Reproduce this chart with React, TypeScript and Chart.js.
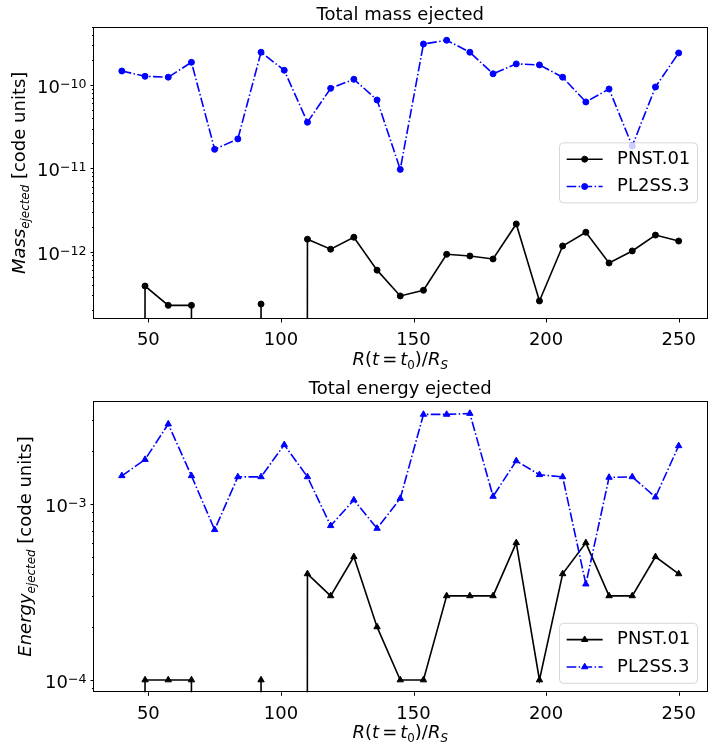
import React, { useEffect, useRef } from "react";
import { Chart, registerables } from "chart.js";

Chart.register(...registerables);

// ---------------- data ----------------
const radii = [40, 48.75, 57.5, 66.25, 75, 83.75, 92.5, 101.25, 110, 118.75, 127.5, 136.25, 145, 153.75, 162.5, 171.25, 180, 188.75, 197.5, 206.25, 215, 223.75, 232.5, 241.25, 250];

const massPNST = [0, 3.87e-13, 2.27e-13, 2.27e-13, 0, 0, 2.35e-13, 0, 1.41e-12, 1.07e-12, 1.49e-12, 6.0e-13, 2.94e-13, 3.44e-13, 9.3e-13, 8.87e-13, 8.17e-13, 2.15e-12, 2.56e-13, 1.17e-12, 1.71e-12, 7.31e-13, 1.02e-12, 1.58e-12, 1.34e-12];
const massPL2SS = [1.47e-10, 1.27e-10, 1.24e-10, 1.87e-10, 1.69e-11, 2.25e-11, 2.47e-10, 1.5e-10, 3.57e-11, 9.1e-11, 1.17e-10, 6.6e-11, 9.7e-12, 3.1e-10, 3.44e-10, 2.47e-10, 1.36e-10, 1.79e-10, 1.74e-10, 1.24e-10, 6.25e-11, 8.95e-11, 1.85e-11, 9.46e-11, 2.42e-10];

const energyPNST = [0, 1e-4, 1e-4, 1e-4, 0, 0, 1e-4, 0, 4e-4, 3e-4, 5e-4, 2e-4, 1e-4, 1e-4, 3e-4, 3e-4, 3e-4, 6e-4, 1e-4, 4e-4, 6e-4, 3e-4, 3e-4, 5e-4, 4e-4];
const energyPL2SS = [1.44e-3, 1.78e-3, 2.83e-3, 1.44e-3, 7.12e-4, 1.42e-3, 1.42e-3, 2.16e-3, 1.42e-3, 7.5e-4, 1.05e-3, 7.24e-4, 1.07e-3, 3.21e-3, 3.21e-3, 3.25e-3, 1.1e-3, 1.75e-3, 1.46e-3, 1.42e-3, 3.5e-4, 1.41e-3, 1.42e-3, 1.09e-3, 2.13e-3];

const seriesNames = ["PNST.01", "PL2SS.3"];
const xTicks = [50, 100, 150, 200, 250];
const xRange = [29.5, 260.5];
const massRange = [1.556e-13, 5.0e-10];
const energyRange = [8.515e-5, 3.84e-3];

// ---------------- helpers ----------------
const FONT = '"DejaVu Sans", sans-serif';
const FS = 18;
const SUB = 0.66;

type Piece = { t: string; it?: boolean; sub?: boolean; pad?: number };

const xLabelPieces: Piece[] = [
  { t: "R", it: true }, { t: "(" }, { t: "t", it: true }, { t: "=", pad: 3 }, { t: "t", it: true },
  { t: "0", sub: true }, { t: ")" }, { t: "/" }, { t: "R", it: true }, { t: "S", it: true, sub: true },
];

// matplotlib clips non-positive values on a log axis to a tiny number
const clipLog = (v: number) => (v > 0 ? v : 1e-300);

const isPow10 = (v: number) => {
  const l = Math.log10(v);
  return Math.abs(l - Math.round(l)) < 1e-6;
};

const logTicks = (min: number, max: number) => {
  const out: { value: number; major: boolean }[] = [];
  for (let e = Math.floor(Math.log10(min)); e <= Math.ceil(Math.log10(max)); e++) {
    for (let k = 1; k <= 9; k++) {
      const v = k * Math.pow(10, e);
      if (v >= min && v <= max) out.push({ value: v, major: k === 1 });
    }
  }
  return out;
};

function drawPieces(ctx: CanvasRenderingContext2D, pieces: Piece[], x: number, y: number) {
  const fontOf = (p: Piece) => `${p.it ? "italic " : ""}${p.sub ? FS * SUB : FS}px ${FONT}`;
  const widths = pieces.map((p) => {
    ctx.font = fontOf(p);
    return ctx.measureText(p.t).width + 2 * (p.pad || 0);
  });
  const total = widths.reduce((a, b) => a + b, 0);
  let cx = x - total / 2;
  ctx.textAlign = "left";
  ctx.textBaseline = "alphabetic";
  ctx.fillStyle = "#000";
  pieces.forEach((p, i) => {
    ctx.font = fontOf(p);
    ctx.fillText(p.t, cx + (p.pad || 0), y + (p.sub ? 4 : 0));
    cx += widths[i];
  });
}

function markerPath(ctx: CanvasRenderingContext2D, style: string, x: number, y: number, r: number) {
  ctx.beginPath();
  if (style === "triangle") {
    let rad = 0;
    ctx.moveTo(x + Math.sin(rad) * r, y - Math.cos(rad) * r);
    rad += (2 * Math.PI) / 3;
    ctx.lineTo(x + Math.sin(rad) * r, y - Math.cos(rad) * r);
    rad += (2 * Math.PI) / 3;
    ctx.lineTo(x + Math.sin(rad) * r, y - Math.cos(rad) * r);
    ctx.closePath();
  } else {
    ctx.arc(x, y, r, 0, Math.PI * 2);
  }
}

type PanelSpec = {
  title: string;
  yLabel: Piece[];
  yLabelX: number;
  pnst: number[];
  pl2ss: number[];
  marker: string;
  radius: number;
  yRange: number[];
  padTop: number;
  xAxisH: number;
  legendLoc: string;
};

function makePlugin(spec: PanelSpec) {
  return {
    id: "mpl",
    afterDatasetsDraw(chart: any) {
      const ctx: CanvasRenderingContext2D = chart.ctx;
      const a = chart.chartArea;
      const xs = chart.scales.x;
      const ys = chart.scales.y;
      ctx.save();
      ctx.strokeStyle = "#000";
      ctx.lineWidth = 1;
      ctx.setLineDash([]);
      // x ticks
      xs.ticks.forEach((t: any) => {
        const px = Math.round(xs.getPixelForValue(t.value)) + 0.5;
        ctx.beginPath();
        ctx.moveTo(px, a.bottom);
        ctx.lineTo(px, a.bottom + 3.5);
        ctx.stroke();
      });
      // y ticks (major + minor) and log labels
      ys.ticks.forEach((t: any) => {
        const py = Math.round(ys.getPixelForValue(t.value)) + 0.5;
        const major = isPow10(t.value);
        ctx.beginPath();
        ctx.moveTo(a.left, py);
        ctx.lineTo(a.left - (major ? 3.5 : 2), py);
        ctx.stroke();
        if (major) {
          const exp = Math.round(Math.log10(t.value));
          const supTxt = (exp < 0 ? "\u2212" : "") + String(Math.abs(exp));
          const right = a.left - 7.5;
          const base = py + 7.5;
          ctx.fillStyle = "#000";
          ctx.textAlign = "left";
          ctx.textBaseline = "alphabetic";
          ctx.font = `${FS * 0.7}px ${FONT}`;
          const w2 = ctx.measureText(supTxt).width;
          ctx.fillText(supTxt, right - w2, base - 5.5);
          ctx.font = `${FS}px ${FONT}`;
          const w1 = ctx.measureText("10").width;
          ctx.fillText("10", right - w2 - w1, base);
        }
      });
      // axes box
      ctx.strokeRect(Math.round(a.left) - 0.5, Math.round(a.top) + 0.5, Math.round(a.right) - Math.round(a.left) + 1, Math.round(a.bottom) - Math.round(a.top) - 1);

      // legend
      ctx.font = `${FS}px ${FONT}`;
      const items = chart.data.datasets;
      const textW = Math.max(...items.map((d: any) => ctx.measureText(d.label).width));
      const pad = 0.4 * FS, handleLen = 2 * FS, textPad = 0.8 * FS, rowH = 18.3, spacing = 0.5 * FS;
      const w = pad + handleLen + textPad + textW + pad;
      const h = 2 * pad + items.length * rowH + (items.length - 1) * spacing;
      const bx = a.right - 0.5 * FS - w;
      const by = spec.legendLoc === "lower right" ? a.bottom - 0.5 * FS - h : (a.top + a.bottom) / 2 - h / 2;
      const rr = 4;
      ctx.beginPath();
      ctx.moveTo(bx + rr, by);
      ctx.lineTo(bx + w - rr, by);
      ctx.arcTo(bx + w, by, bx + w, by + rr, rr);
      ctx.lineTo(bx + w, by + h - rr);
      ctx.arcTo(bx + w, by + h, bx + w - rr, by + h, rr);
      ctx.lineTo(bx + rr, by + h);
      ctx.arcTo(bx, by + h, bx, by + h - rr, rr);
      ctx.lineTo(bx, by + rr);
      ctx.arcTo(bx, by, bx + rr, by, rr);
      ctx.closePath();
      ctx.fillStyle = "rgba(255,255,255,0.8)";
      ctx.fill();
      ctx.strokeStyle = "rgba(204,204,204,0.8)";
      ctx.lineWidth = 1;
      ctx.stroke();
      items.forEach((d: any, i: number) => {
        const cy = by + pad + rowH / 2 + i * (rowH + spacing);
        const x0 = bx + pad, x1 = x0 + handleLen;
        ctx.setLineDash(d.borderDash || []);
        ctx.strokeStyle = d.borderColor;
        ctx.lineWidth = d.borderWidth;
        ctx.beginPath();
        ctx.moveTo(x0, cy);
        ctx.lineTo(x1, cy);
        ctx.stroke();
        ctx.setLineDash([]);
        markerPath(ctx, d.pointStyle, (x0 + x1) / 2, cy, d.pointRadius);
        ctx.fillStyle = d.pointBackgroundColor;
        ctx.fill();
        ctx.lineWidth = d.pointBorderWidth;
        ctx.strokeStyle = d.pointBorderColor;
        ctx.stroke();
        ctx.fillStyle = "#000";
        ctx.font = `${FS}px ${FONT}`;
        ctx.textAlign = "left";
        ctx.textBaseline = "middle";
        ctx.fillText(d.label, x1 + textPad, cy);
      });
      ctx.restore();
    },
    afterDraw(chart: any) {
      const ctx: CanvasRenderingContext2D = chart.ctx;
      const a = chart.chartArea;
      ctx.save();
      ctx.fillStyle = "#000";
      ctx.font = `${FS}px ${FONT}`;
      ctx.textAlign = "center";
      ctx.textBaseline = "alphabetic";
      ctx.fillText(spec.title, (a.left + a.right) / 2, a.top - 7);
      drawPieces(ctx, xLabelPieces, (a.left + a.right) / 2, a.bottom + 45.5);
      ctx.translate(spec.yLabelX, (a.top + a.bottom) / 2);
      ctx.rotate(-Math.PI / 2);
      drawPieces(ctx, spec.yLabel, 0, 0);
      ctx.restore();
    },
  };
}

function buildChart(canvas: HTMLCanvasElement, spec: PanelSpec) {
  const mk = (label: string, vals: number[], color: string, dash: number[], order: number) => ({
    label,
    data: radii.map((r, i) => ({ x: r, y: clipLog(vals[i]) })),
    borderColor: color,
    backgroundColor: color,
    pointBackgroundColor: color,
    pointBorderColor: color,
    pointBorderWidth: 1,
    pointStyle: spec.marker,
    pointRadius: spec.radius,
    borderWidth: 1.6,
    borderDash: dash,
    tension: 0,
    clip: 0,
    order,
  });
  return new Chart(canvas, {
    type: "line",
    data: {
      datasets: [
        mk(seriesNames[0], spec.pnst, "#000000", [], 1),
        mk(seriesNames[1], spec.pl2ss, "#0000ff", [9.6, 2.4, 1.5, 2.4], 0),
      ],
    },
    options: {
      responsive: false,
      animation: false,
      events: [],
      layout: { padding: { top: spec.padTop, right: 5.5, left: 0, bottom: 0 } },
      plugins: { legend: { display: false }, title: { display: false }, tooltip: { enabled: false } },
      scales: {
        x: {
          type: "linear",
          min: xRange[0],
          max: xRange[1],
          grid: { display: false },
          border: { display: false },
          ticks: { padding: 3, color: "#000", autoSkip: false, maxRotation: 0, font: { size: FS, family: FONT }, callback: (v: any) => String(v) },
          afterBuildTicks: (s: any) => { s.ticks = xTicks.map((v) => ({ value: v })); },
          afterFit: (s: any) => { s.height = spec.xAxisH; },
        },
        y: {
          type: "logarithmic",
          min: spec.yRange[0],
          max: spec.yRange[1],
          grid: { display: false },
          border: { display: false },
          ticks: { display: false, autoSkip: false },
          afterBuildTicks: (s: any) => { s.ticks = logTicks(spec.yRange[0], spec.yRange[1]); },
          afterFit: (s: any) => { s.width = 94; },
        },
      },
    } as any,
    plugins: [makePlugin(spec) as any],
  });
}

export default function App() {
  const topRef = useRef<HTMLCanvasElement | null>(null);
  const botRef = useRef<HTMLCanvasElement | null>(null);

  useEffect(() => {
    const top = buildChart(topRef.current!, {
      title: "Total mass ejected",
      yLabel: [{ t: "Mass", it: true }, { t: "ejected", it: true, sub: true }, { t: " [code units]" }],
      yLabelX: 25,
      pnst: massPNST,
      pl2ss: massPL2SS,
      marker: "circle",
      radius: 3,
      yRange: massRange,
      padTop: 26.7,
      xAxisH: 51,
      legendLoc: "center right",
    });
    const bot = buildChart(botRef.current!, {
      title: "Total energy ejected",
      yLabel: [{ t: "Energy", it: true }, { t: "ejected", it: true, sub: true }, { t: " [code units]" }],
      yLabelX: 31,
      pnst: energyPNST,
      pl2ss: energyPL2SS,
      marker: "triangle",
      radius: 3.7,
      yRange: energyRange,
      padTop: 30.7,
      xAxisH: 56.7,
      legendLoc: "lower right",
    });
    return () => {
      top.destroy();
      bot.destroy();
    };
  }, []);

  return (
    <div style={{ position: "absolute", left: 0, top: 0, width: 712, height: 749, background: "#fff" }}>
      <canvas ref={topRef} width={712} height={370} style={{ position: "absolute", left: 0, top: 0, width: 712, height: 370 }} />
      <canvas ref={botRef} width={712} height={379} style={{ position: "absolute", left: 0, top: 370, width: 712, height: 379 }} />
    </div>
  );
}
